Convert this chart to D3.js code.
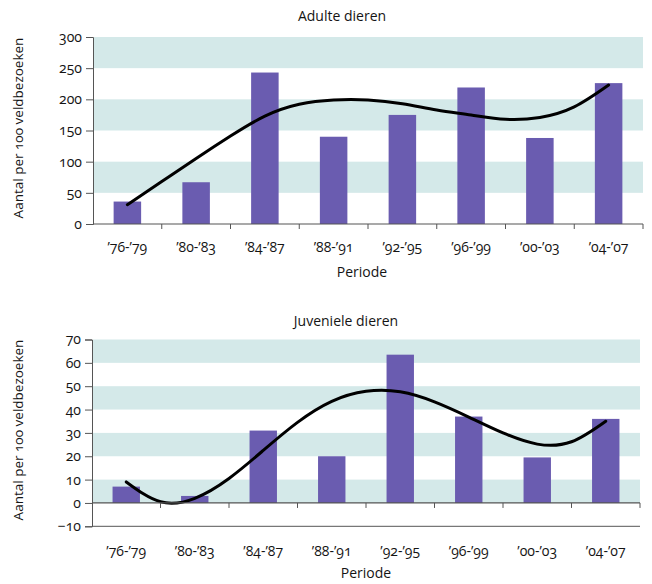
<!DOCTYPE html>
<html>
<head>
<meta charset="utf-8">
<script src="https://cdn.jsdelivr.net/npm/d3@7/dist/d3.min.js"></script>
<style>
  html, body { margin: 0; padding: 0; background: #ffffff; }
  svg text {
    font-family: "Open Sans", Lato, sans-serif;
    font-feature-settings: "onum" 1;
    font-variant-numeric: oldstyle-nums;
    fill: #141414;
  }
</style>
</head>
<body>
<svg id="chart" width="652" height="584"></svg>
<script>
// Periods on the x-axis
const periods = ["’76-’79", "’80-’83", "’84-’87", "’88-’91", "’92-’95", "’96-’99", "’00-’03", "’04-’07"];

// Counts per 100 field visits
const adultValues    = [36, 67, 243, 140, 175, 219, 138, 226];
const juvenileValues = [7, 3, 31, 20, 63.5, 37, 19.5, 36];

// Trend line samples (position in period units, value)
const trendPositions = [0, 0.5, 1, 1.5, 2, 2.5, 3, 3.5, 4, 4.5, 5, 5.5, 6, 6.5, 7];
const adultTrend     = [31, 68, 105, 141, 173, 192, 199, 199, 193, 183, 175, 168, 171, 188, 223];
const juvenileTrend  = [9, 0.5, 2, 10.5, 22.5, 34.5, 43.5, 47.8, 47.6, 43.3, 36.8, 30, 25.2, 26.2, 35];

// Y-axis ticks and shaded bands
const adultTicks    = [0, 50, 100, 150, 200, 250, 300];
const adultBands    = [[50, 100], [150, 200], [250, 300]];
const juvenileTicks = [-10, 0, 10, 20, 30, 40, 50, 60, 70];
const juvenileBands = [[0, 10], [20, 30], [40, 50], [60, 70]];

const titles = ["Adulte dieren", "Juveniele dieren"];
const yTitle = "Aantal per 100 veldbezoeken";
const xTitle = "Periode";

const BAR = "#6a5cb0";
const BAND = "#d4e9e9";
const AXIS = "#555555";

const svg = d3.select("#chart");

function panel(opts) {
  const g = svg.append("g");
  const x = d3.scaleBand().domain(periods).range([opts.left, opts.right])
    .paddingInner(0.6).paddingOuter(0.3);
  const y = d3.scaleLinear().domain(opts.domain).range([opts.bottom, opts.top]);
  const xPos = d3.scaleLinear().domain([0, periods.length - 1])
    .range([x(periods[0]) + x.bandwidth() / 2, x(periods[periods.length - 1]) + x.bandwidth() / 2]);

  // shaded bands
  g.selectAll("rect.band").data(opts.bands).join("rect")
    .attr("class", "band")
    .attr("x", opts.left + 1)
    .attr("width", opts.right - opts.left - 1)
    .attr("y", d => y(d[1]))
    .attr("height", d => y(d[0]) - y(d[1]))
    .attr("fill", BAND);

  // bars
  g.selectAll("rect.bar").data(opts.values).join("rect")
    .attr("class", "bar")
    .attr("x", (d, i) => x(periods[i]))
    .attr("width", x.bandwidth())
    .attr("y", d => y(Math.max(0, d)))
    .attr("height", d => Math.abs(y(d) - y(0)))
    .attr("fill", BAR);

  // trend line
  const line = d3.line()
    .x((d, i) => xPos(trendPositions[i]))
    .y(d => y(d))
    .curve(d3.curveNatural);
  g.append("path")
    .datum(opts.trend)
    .attr("d", line)
    .attr("fill", "none")
    .attr("stroke", "#000")
    .attr("stroke-width", 3)
    .attr("stroke-linecap", "round");

  // bottom frame line below zero (juvenile panel)
  if (opts.domain[0] < 0) {
    g.append("line")
      .attr("x1", opts.left).attr("x2", opts.right)
      .attr("y1", y(opts.domain[0])).attr("y2", y(opts.domain[0]))
      .attr("stroke", "#777").attr("stroke-width", 1.2);
  }

  // y axis
  const yAxis = d3.axisLeft(y).tickValues(opts.ticks).tickSize(7).tickPadding(4)
    .tickFormat(d3.format("d"));
  const ya = g.append("g").attr("transform", `translate(${opts.left},0)`).call(yAxis);
  ya.select(".domain").attr("stroke", AXIS);
  ya.selectAll(".tick line").attr("stroke", AXIS);
  ya.selectAll("text").attr("font-size", 14).attr("fill", "#141414")
    .attr("font-family", "'Open Sans', sans-serif");

  // x axis on the zero line: ticks at period boundaries
  const boundaries = d3.range(periods.length + 1).map(i => opts.left + i * x.step());
  const xa = g.append("g");
  xa.append("line")
    .attr("x1", opts.left).attr("x2", opts.right)
    .attr("y1", y(0)).attr("y2", y(0))
    .attr("stroke", AXIS).attr("stroke-width", 1.2);
  xa.selectAll("line.tk").data(boundaries.slice(1)).join("line")
    .attr("class", "tk")
    .attr("x1", d => d).attr("x2", d => d)
    .attr("y1", y(0)).attr("y2", y(0) + 5)
    .attr("stroke", AXIS);

  // period labels
  g.selectAll("text.period").data(periods).join("text")
    .attr("class", "period")
    .attr("x", d => x(d) + x.bandwidth() / 2)
    .attr("y", opts.labelY)
    .attr("text-anchor", "middle")
    .attr("font-size", 14)
    .text(d => d);

  // titles
  g.append("text")
    .attr("x", opts.titleX).attr("y", opts.titleY)
    .attr("text-anchor", "middle").attr("font-size", 14)
    .text(opts.title);
  g.append("text")
    .attr("x", opts.titleX + 20).attr("y", opts.xTitleY)
    .attr("text-anchor", "middle").attr("font-size", 14)
    .text(xTitle);
  g.append("text")
    .attr("transform", `translate(23,${opts.yTitleCenter}) rotate(-90)`)
    .attr("text-anchor", "middle").attr("font-size", 13.5)
    .text(yTitle);
}

panel({
  left: 93, right: 643, top: 37, bottom: 224,
  domain: [0, 300], ticks: adultTicks, bands: adultBands,
  values: adultValues, trend: adultTrend,
  labelY: 252, title: titles[0], titleX: 342, titleY: 21, xTitleY: 277,
  yTitleCenter: 128
});

panel({
  left: 92, right: 640, top: 339.5, bottom: 526.3,
  domain: [-10, 70], ticks: juvenileTicks, bands: juvenileBands,
  values: juvenileValues, trend: juvenileTrend,
  labelY: 556, title: titles[1], titleX: 346, titleY: 326, xTitleY: 578,
  yTitleCenter: 430
});
</script>
</body>
</html>
